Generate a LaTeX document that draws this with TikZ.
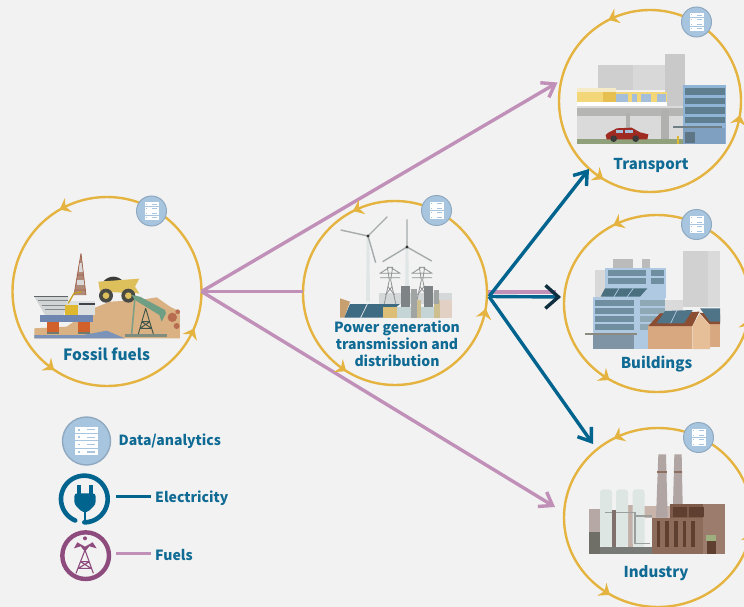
\documentclass[tikz,border=0pt]{standalone}
\usepackage{fontspec}
\setmainfont{Noto Sans CJK JP}
\usetikzlibrary{arrows.meta,shapes.geometric}
\definecolor{bgc}{HTML}{F2F2F2}
\definecolor{gold}{HTML}{E5B440}
\definecolor{fuelc}{HTML}{C090B8}
\definecolor{elec}{HTML}{00648F}
\definecolor{navy}{HTML}{0F2F40}
\definecolor{txt}{HTML}{0F6A94}
\definecolor{bad}{HTML}{A8C5DF}
\definecolor{badl}{HTML}{8FA9C0}
\definecolor{purp}{HTML}{8E4C7E}
\definecolor{sand}{HTML}{D9B183}
\definecolor{win}{HTML}{6F8C9C}
\definecolor{lb}{HTML}{AFC9E3}
\definecolor{brn}{HTML}{8E6C5C}
\definecolor{dbr}{HTML}{5F4030}
\tikzset{
 HTML/.code={\definecolor{tmpc}{HTML}{#1}\pgfkeysalso{/tikz/color=tmpc}},
 x=1pt,y=-1pt,
 hub/.style={draw=gold,line width=2.4pt,inner sep=0pt,outer sep=0pt},
 round hub/.style={hub,circle},
 oval hub/.style={hub,ellipse},
 lab/.style={font=\bfseries\fontsize{15}{15.5}\selectfont,text=txt,align=center,inner sep=0pt},
 labpower/.style={font=\bfseries\fontsize{14}{17}\selectfont,text=txt,align=center,inner sep=0pt},
 leglab/.style={font=\bfseries\fontsize{14}{15}\selectfont,text=txt,anchor=west,inner sep=0pt},
 badge/.style={circle,fill=bad,draw=badl,line width=1pt,minimum size=30pt,inner sep=0pt},
 fuelline/.style={draw=fuelc,line width=3.4pt},
 elecline/.style={draw=elec,line width=3.4pt},
 tipbarb/.style={-{Straight Barb[length=12pt,width=17pt]}},
 flowtip/.pic={\fill[gold] (5,0) -- (-5,-8) -- (-1.5,0) -- (-5,8) -- cycle;},
 rows/.pic={
  \foreach \r in {-7,-2.4,2.2,6.8}{
   \fill[white] (-7,\r-2) rectangle (7,\r+2);
   \fill[bad] (-5.5,\r-.5) rectangle (-4.3,\r+.5);
   \fill[bad] (0,\r-.4) rectangle (5.5,\r+.4);}
 }
}
\newcommand{\flowat}[2]{\path (#1.#2) pic[rotate=#2+90]{flowtip};}
\begin{document}
\begin{tikzpicture}
\useasboundingbox (0,0) rectangle (744,607);
\fill[bgc] (0,0) rectangle (744,607);

% ---- fossil fuels illustration
\begin{scope}[shift={(0,180)},scale=1/3]
\fill[sand] (103,445) -- (200,440) -- (280,385) -- (330,365) -- (420,360) -- (470,352) -- (510,380) -- (540,395) -- (540,475) -- (103,475) -- cycle;
\fill[HTML=7B93B8] (103,475) -- (103,465) -- (250,465) -- (320,452) -- (375,475) -- cycle;
\fill[HTML=7F8C80] (375,462) rectangle (500,472);
% derrick
\fill[HTML=B08A78] (243,220) -- (258,345) -- (222,345) -- cycle;
\fill[white!85!black] (236,250) rectangle (250,275);
\fill[white!85!black] (232,300) rectangle (254,315);
\draw[HTML=A0604A,line width=.7pt] (243,220) -- (222,345) (243,220) -- (258,345) (226,330) -- (256,330) (230,285) -- (252,285);
% platform
\fill[HTML=D2D5D6] (103,350) -- (205,350) -- (205,375) -- (190,405) -- (135,405) -- cycle;
\draw[HTML=84888C,line width=.6pt] (115,362) -- (205,362) (125,375) -- (200,375) (135,388) -- (195,388);
\draw[HTML=606468,line width=.9pt] (103,350) -- (205,350);
\fill[HTML=DDE0E0] (200,362) rectangle (285,405);
\fill[HTML=3E4448] (238,370) rectangle (285,376);
\fill[HTML=E0B830] (195,375) rectangle (235,405);
\draw[HTML=C8A020,line width=1.3pt] (205,370) -- (222,340) -- (245,335);
\fill[HTML=6F86B0] (120,405) rectangle (280,425);
\fill[HTML=D2602A] (140,425) rectangle (178,458);
\fill[HTML=D2602A] (235,425) rectangle (270,458);
\fill[HTML=6F7A70] (140,455) rectangle (178,463);
\fill[HTML=6F7A70] (235,455) rectangle (270,463);
% truck
\fill[HTML=3C3C38] (310,305) .. controls (325,285) and (355,285) .. (370,305) -- cycle;
\fill[HTML=DDBF5B] (295,305) -- (418,296) -- (405,320) -- (418,340) -- (300,335) -- cycle;
\fill[HTML=4A4A44] (318,347) circle (21);
\fill[HTML=4A4A44] (385,347) circle (21);
\fill[HTML=DDBF5B] (318,347) circle (10);
\fill[HTML=DDBF5B] (385,347) circle (10);
% pumpjack
\draw[HTML=7F9F88,line width=1.6pt] (405,350) -- (395,462);
\fill[HTML=6E9E83] (395,345) -- (420,350) -- (495,390) -- (498,400) -- (485,425) -- (478,405) -- (405,360) -- cycle;
\draw[HTML=3F5448,line width=.9pt] (437,385) -- (415,462) (437,385) -- (460,462) (425,425) -- (450,425) (420,445) -- (455,445) (425,425) -- (455,445) (450,425) -- (420,445);
% gears
\fill[HTML=B86C50] (517,412) circle (14);
\fill[HTML=B86C50] (530,438) circle (9);
\fill[HTML=B86C50] (533,395) circle (7);
\end{scope}

% ---- power illustration
\begin{scope}[shift={(290,180)},scale=1/3]
\fill[HTML=E0E5E5] (230,168) -- (238,168) -- (240,365) -- (228,365) -- cycle;
\fill[HTML=E0E5E5] (347,201) -- (355,201) -- (357,362) -- (345,362) -- cycle;
\draw[HTML=A6ABAB,line width=1.4pt] (234,168) -- (152,150) (234,168) -- (292,110) (234,168) -- (257,248);
\draw[HTML=A6ABAB,line width=1.4pt] (351,201) -- (351,118) (351,201) -- (278,245) (351,201) -- (425,243);
\fill[HTML=303030] (234,168) circle (5);
\fill[HTML=303030] (351,201) circle (5);
\fill[HTML=D4D8D8] (268,340) rectangle (485,372);
\foreach \c in {300,396}{
 \draw[HTML=8F9292,line width=.8pt] (\c-8,262) -- (\c+8,262) -- (\c+2,300) -- (\c+18,375) (\c-8,262) -- (\c-2,300) -- (\c-18,375);
 \draw[HTML=8F9292,line width=.8pt] (\c-32,280) -- (\c+32,280) (\c-30,293) -- (\c+30,293) (\c-6,320) -- (\c+14,345) (\c+6,320) -- (\c-14,345) (\c-30,280) -- (\c-2,262) (\c+30,280) -- (\c+2,262);
}
\fill[HTML=C8A070] (150,355) -- (180,365) -- (163,413) -- (150,413) -- cycle;
\fill[HTML=3E6A82] (180,372) -- (330,372) -- (280,413) -- (163,413) -- cycle;
\draw[white!85!gray,line width=.7pt] (232,372) -- (212,413);
\fill[HTML=DDBE76] (280,380) rectangle (322,413);
\fill[HTML=C5D5D5] (322,380) rectangle (365,413);
\fill[HTML=C5D5D5] (392,380) rectangle (432,413);
\fill[HTML=E2D0C4] (450,360) rectangle (485,413);
\fill[HTML=CDBF90] (365,360) rectangle (392,413);
\fill[HTML=CDBF90] (432,360) rectangle (450,413);
\fill[HTML=7E8486] (333,318) rectangle (360,380);
\fill[HTML=7E8486] (403,318) rectangle (430,380);
\fill[HTML=A0A4A2] (362,328) rectangle (380,413);
\fill[HTML=A0A4A2] (432,330) rectangle (448,372);
\end{scope}

% ---- transport illustration
\begin{scope}[shift={(540,0)},scale=1/3]
\fill[HTML=CFCFCF] (175,195) rectangle (390,270);
\fill[HTML=D8D8D8] (280,195) rectangle (390,270);
\fill[HTML=C9C9C9] (376,163) rectangle (436,320);
\fill[HTML=DADADA] (112,318) rectangle (430,418);
\fill[HTML=F5EBC8] (112,265) rectangle (228,277);
\fill[HTML=F2D678] (112,277) rectangle (380,305);
\fill[HTML=E6C050] (190,277) rectangle (228,305);
\foreach \a/\b in {228/265,275/292,302/333,352/378}{\fill[HTML=A5BEDA] (\a,283) rectangle (\b,305);}
\fill[white] (112,305) rectangle (380,318);
\fill[HTML=B5B5B3] (112,325) rectangle (430,348);
\fill[HTML=B0B0AE] (362,330) rectangle (388,430);
\fill[HTML=B0B0AE] (258,340) rectangle (270,385);
\fill[HTML=8FA07A] (112,418) rectangle (430,433);
\fill[HTML=9E2A22] (197,405) .. controls (205,395) and (220,392) .. (230,385) -- (275,383) -- (300,397) -- (325,403) -- (322,418) -- (200,418) -- cycle;
\fill[HTML=A5BEDA] (228,390) rectangle (248,399);
\fill[HTML=A5BEDA] (254,389) rectangle (278,399);
\fill[HTML=3A3A3A] (221,416) circle (10);
\fill[HTML=3A3A3A] (287,416) circle (10);
\fill[HTML=8FB4D6] (429,255) rectangle (557,433);
\foreach \r in {265,293,322,350}{\fill[HTML=5F7F90] (436,\r) rectangle (555,\r+20);}
\fill[HTML=7FA0C0] (429,383) rectangle (555,433);
\fill[HTML=5D7585] (435,395) rectangle (465,430);
\fill[HTML=6F7F85] (400,379) rectangle (545,384);
\fill[HTML=E0B830] (411,408) rectangle (417,433);
\end{scope}

% ---- buildings illustration
\begin{scope}[shift={(540,200)},scale=1/3]
\fill[HTML=D1D1D1] (430,153) rectangle (505,320);
\fill[HTML=DADADA] (505,153) rectangle (540,320);
\fill[HTML=DADADA] (375,300) rectangle (430,340);
\fill[HTML=BBBBBB] (220,178) rectangle (278,205);
\fill[HTML=BBBBBB] (305,178) rectangle (330,205);
\fill[HTML=D9D9D9] (165,210) rectangle (200,290);
\fill[lb] (195,205) rectangle (378,295);
\foreach \r in {210,235}{\fill[HTML=6F8FA0] (203,\r) rectangle (318,\r+18); \fill[HTML=6F8FA0] (333,\r) rectangle (373,\r+18);}
\fill[HTML=4A7080] (195,265) -- (322,265) -- (300,290) -- (182,290) -- cycle;
\draw[lb,line width=.7pt] (237,265) -- (222,290) (280,265) -- (262,290);
\fill[lb] (160,290) rectangle (375,447);
\foreach \r in {300,325,347,372}{\fill[HTML=6F8FA0] (165,\r) rectangle (283,\r+18); \fill[HTML=8FA8B5] (300,\r) rectangle (375,\r+18);}
\fill[HTML=7F95A5] (160,405) rectangle (283,447);
\fill[HTML=8A8A80] (135,398) rectangle (290,404);
\fill[HTML=D8A880] (325,375) rectangle (457,447);
\fill[HTML=8C4E32] (325,378) -- (360,340) -- (478,335) -- (457,378) -- cycle;
\fill[HTML=4F7487] (350,370) -- (375,333) -- (458,330) -- (432,370) -- cycle;
\draw[lb,line width=.7pt] (410,332) -- (392,370);
\fill[HTML=D8A880] (510,370) rectangle (540,442);
\fill[HTML=8C4E32] (478,338) -- (540,345) -- (540,372) -- (508,372) -- cycle;
\fill[HTML=4F7487] (480,325) -- (540,325) -- (540,365) -- (510,365) -- cycle;
\fill[HTML=E6BE98] (457,380) -- (478,342) -- (510,375) -- (510,447) -- (457,447) -- cycle;
\end{scope}

% ---- industry illustration
\begin{scope}[shift={(540,410)},scale=1/3]
\fill[HTML=B5A8A5] (148,297) rectangle (180,365);
\fill[HTML=E8ECEA] (180,300) rectangle (313,410);
\fill[HTML=C2AFA8] (265,285) rectangle (278,410);
\fill[HTML=C8B4AA] (313,288) rectangle (390,323);
\foreach \a in {180,228,278}{\fill[HTML=DDE6E3,rounded corners=3pt] (\a,238) rectangle (\a+36,410);}
\fill[HTML=B0A5A3] (355,133) -- (378,133) -- (383,323) -- (348,323) -- cycle;
\fill[HTML=B0A5A3] (403,133) -- (425,133) -- (428,285) -- (399,285) -- cycle;
\fill[HTML=8C6F60] (352,183) rectangle (380,188);
\fill[HTML=8C6F60] (401,183) rectangle (427,188);
\fill[HTML=777A76] (147,410) rectangle (335,432);
\fill[HTML=6F6F68] (147,365) rectangle (180,432);
\draw[HTML=9A9E9C,line width=1.6pt] (195,307) -- (285,307) -- (285,400) -- (330,400) (285,318) -- (335,318);
\fill[HTML=7F706C] (217,300) rectangle (228,410);
\fill[brn] (337,323) rectangle (555,432);
\fill[HTML=7E5A4A] (390,283) rectangle (490,323);
\fill[HTML=9C7C6C] (490,283) rectangle (555,432);
\fill[dbr] (398,290) rectangle (442,322);
\fill[dbr] (448,290) rectangle (492,322);
\foreach \a in {350,375,402,428,453}{\fill[dbr] (\a,333) rectangle (\a+11,410);}
\fill[HTML=9DAF7E] (498,375) rectangle (528,392);
\fill[dbr] (500,392) rectangle (527,432);
\end{scope}

% ---- hubs
\node[round hub,minimum size=189pt] (fossil) at (107,291.5) {};
\node[round hub,minimum size=184pt] (power) at (395,293) {};
\node[round hub,minimum size=182pt] (transport) at (650,101) {};
\node[oval hub,minimum width=186pt,minimum height=177pt] (buildings) at (657,303.5) {};
\node[oval hub,minimum width=188pt,minimum height=179pt] (industry) at (658,517.5) {};

% ---- free ends
\coordinate (outfuel) at (488,292);
\coordinate (infuel) at (556,292);
\coordinate (outelec) at (489,296.5);
\coordinate (inelec) at (561,297);
\coordinate (fueltop) at (557.5,82.5);
\coordinate (fuelbot) at (555,507);
\coordinate (electop) at (589,169);
\coordinate (elecbot) at (593,444);

% ---- connectors
\draw[fuelline,tipbarb] (fossil.east) -- (fueltop);
\draw[fuelline,tipbarb] (fossil.east) -- (fuelbot);
\draw[fuelline] (fossil.east) -- (fossil.east -| power.west);
\draw[fuelline] (outfuel) -- (infuel);
\draw[elecline,tipbarb] (outelec) -- (electop);
\draw[elecline,tipbarb] (outelec) -- (elecbot);
\draw[elecline,-{Straight Barb[color=navy,length=13pt,width=23pt]}] (outelec) -- (inelec);

% ---- flow marks
\flowat{fossil}{117}\flowat{fossil}{233}\flowat{fossil}{334}
\flowat{power}{114}\flowat{power}{235}\flowat{power}{347}
\flowat{transport}{114}\flowat{transport}{236}\flowat{transport}{348}
\flowat{buildings}{116}\flowat{buildings}{235}\flowat{buildings}{347}
\flowat{industry}{116}\flowat{industry}{235}\flowat{industry}{348}

% ---- badges
\node[badge] (bf) at (151.5,211) {}; \path (bf) pic{rows};
\node[badge] (bp) at (436.5,210.5) {}; \path (bp) pic{rows};
\node[badge] (bt) at (696.5,22) {}; \path (bt) pic{rows};
\node[badge] (bb) at (696.5,224.5) {}; \path (bb) pic{rows};
\node[badge] (bi) at (698.5,437.5) {}; \path (bi) pic{rows};

% ---- labels
\node[lab,font=\bfseries\fontsize{15.5}{16}\selectfont] (lf) at (106.5,354) {Fossil fuels};
\node[labpower] (lp) at (397,344) {Power generation\\transmission and\\distribution};
\node[lab] (lt) at (651,165) {Transport};
\node[lab] (lb) at (656.5,364) {Buildings};
\node[lab] (li) at (656,573.5) {Industry};

% ---- legend
\node[circle,fill=bad,draw=badl,line width=1.4pt,minimum size=48pt,inner sep=0pt] (ldata) at (86.5,441) {};
\path (ldata) pic[scale=1.6]{rows};
\node[leglab] (ltd) at (118.5,441.5) {Data/analytics};
\begin{scope}[shift={(40,405)},scale=1/3]
\draw[elec,line width=4.6pt,line cap=round] plot[domain=113:450,samples=70] ({133+70*cos(\x)},{282+70*sin(\x)});
\draw[elec,line width=2.6pt] (135,352) -- (135,315);
\fill[elec,rounded corners=3pt] (103,265) -- (167,265) -- (167,298) -- (142,322) -- (128,322) -- (103,298) -- cycle;
\fill[elec] (112,240) rectangle (122,268);
\fill[elec] (148,240) rectangle (158,268);
\draw[purp,line width=4.4pt] (137,452) circle (70);
\draw[purp,line width=1.1pt] (135,435) -- (108,505) (135,435) -- (160,505) (122,470) -- (148,470) (115,490) -- (153,490) (122,470) -- (153,490) (148,470) -- (115,490);
\fill[purp] (135,400) circle (6);
\fill[purp] (135,425) -- (112,412) -- (102,430) -- (122,424) -- (135,440) -- (148,424) -- (170,430) -- (158,412) -- cycle;
\end{scope}
\coordinate (le1) at (116,496.7);
\coordinate (le2) at (150.7,496.7);
\coordinate (lf1) at (116,553.7);
\coordinate (lf2) at (150.7,553.7);
\draw[elecline] (le1) -- (le2);
\draw[fuelline] (lf1) -- (lf2);
\node[leglab] (lte) at (155,498.5) {Electricity};
\node[leglab] (ltf) at (155,555) {Fuels};
\end{tikzpicture}
\end{document}
